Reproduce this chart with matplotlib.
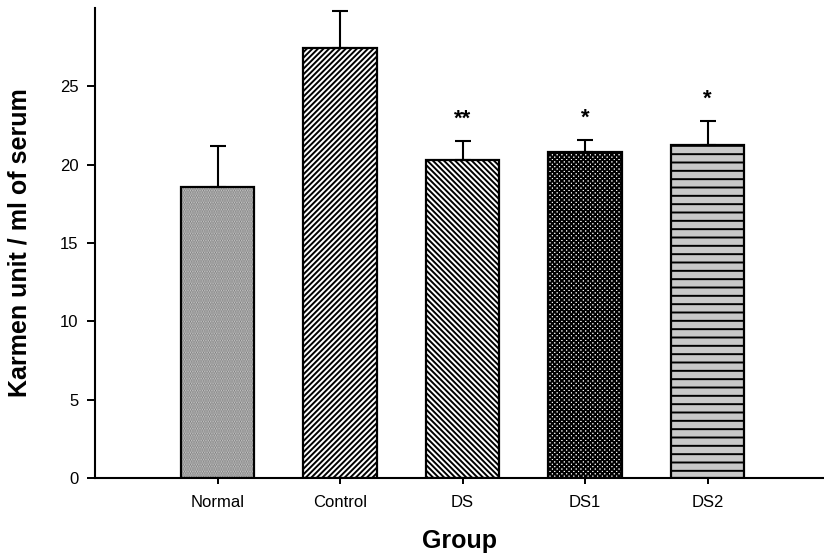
import matplotlib
matplotlib.use("Agg")
import matplotlib.pyplot as plt
import numpy as np

plt.rcParams['font.family'] = ['Liberation Sans', 'DejaVu Sans']
plt.rcParams['hatch.linewidth'] = 1.4

# group means and SEM (Karmen unit / ml of serum)
groups = ['Normal', 'Control', 'DS', 'DS1', 'DS2']
means = [18.6, 27.45, 20.3, 20.8, 21.25]
errors = [2.6, 2.35, 1.2, 0.75, 1.55]
signif = ['', '', '**', '*', '*']

# fill style per group: face colour, hatch pattern, hatch colour
faces = ['#cfcfcf', 'white', 'white', 'white', '#c8c8c8']
hatches = ['.......', '//////', '\\\\\\\\\\\\', 'xxxxxxx', '--']
hatch_cols = ['#7d7d7d', 'black', 'black', 'black', 'black']

fig = plt.figure(figsize=(8.24, 5.57), dpi=100)
ax = fig.add_axes([0.1153, 0.1418, 0.8847, 0.8438])

x = np.arange(1, len(groups) + 1)
for i in range(len(groups)):
    # hatched fill first, then the black outline on top
    ax.bar(x[i], means[i], width=0.6, color=faces[i], hatch=hatches[i],
           edgecolor=hatch_cols[i], linewidth=0, zorder=2)
    ax.bar(x[i], means[i], width=0.6, fill=False, edgecolor='black',
           linewidth=1.6, zorder=3)

ax.errorbar(x, means, yerr=[np.zeros(len(errors)), errors], fmt='none',
            ecolor='black', elinewidth=1.5, capsize=6, capthick=1.5, zorder=4)

for xi, m, e, s in zip(x, means, errors, signif):
    if s:
        ax.text(xi, m + e + 1.4, s, ha='center', va='center',
                fontsize=16, fontweight='bold')

ax.set_xlim(0, 5.95)
ax.set_ylim(0, 30)
ax.set_xticks(x)
ax.set_xticklabels(groups, fontsize=12)
ax.set_yticks([0, 5, 10, 15, 20, 25])
ax.tick_params(axis='y', direction='out', length=6, width=1.4, labelsize=12, pad=6)
ax.tick_params(axis='x', direction='out', length=4, width=1.4, pad=8)

for side in ['top', 'right']:
    ax.spines[side].set_visible(False)
for side in ['left', 'bottom']:
    ax.spines[side].set_linewidth(1.5)

ax.set_xlabel('Group', fontsize=18, fontweight='bold', labelpad=14)
ax.set_ylabel('Karmen unit / ml of serum', fontsize=18, fontweight='bold', labelpad=20)

fig.savefig('out.png', dpi=100)
